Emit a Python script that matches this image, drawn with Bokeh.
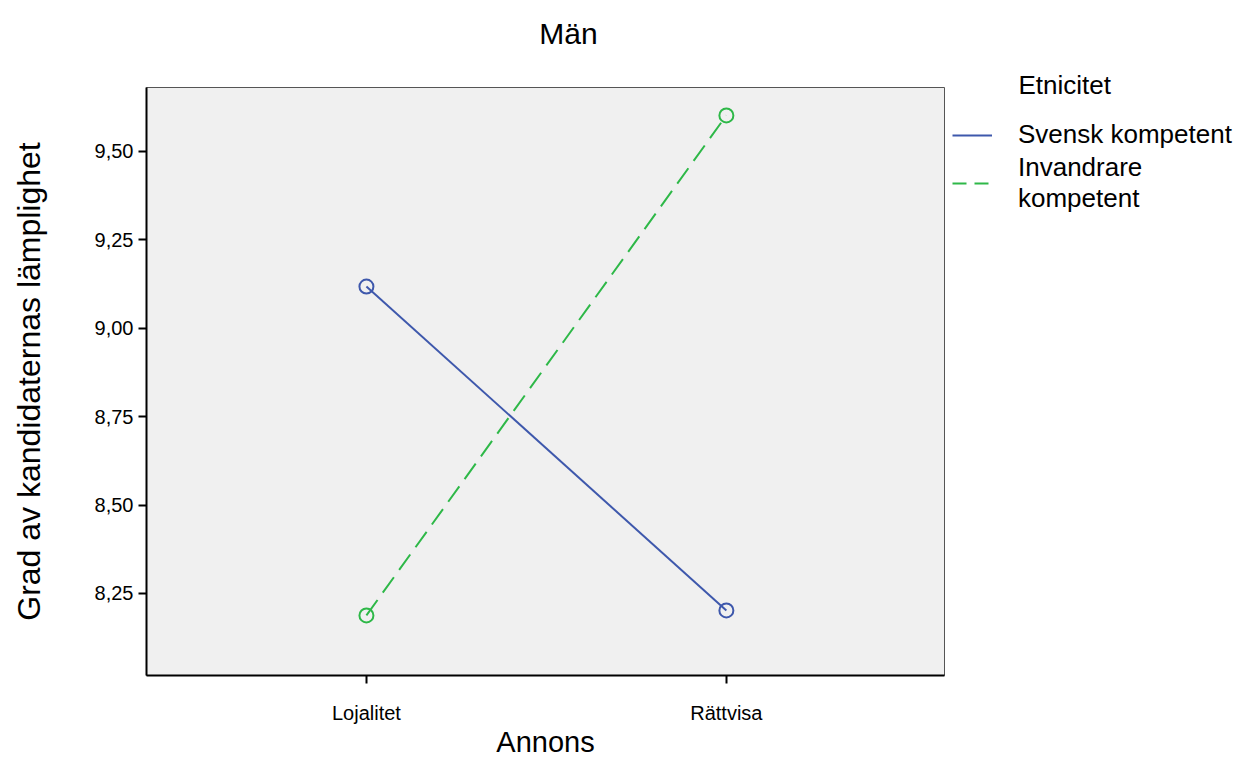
from bokeh.plotting import figure
from bokeh.models import FixedTicker, Range1d, Legend, LegendItem, Label
from bokeh.layouts import row, column
from bokeh.embed import file_html
from bokeh.resources import INLINE

categories = ["Lojalitet", "Rättvisa"]
svensk = [9.118, 8.202]
invandrare = [8.188, 9.602]
y_ticks = [8.25, 8.50, 8.75, 9.00, 9.25, 9.50]
y_tick_labels = ["8,25", "8,50", "8,75", "9,00", "9,25", "9,50"]
series_names = ["Svensk kompetent", "Invandrare\nkompetent"]
chart_title = "Män"
legend_title = "Etnicitet"

FONT = "Liberation Sans"
BLUE = "#3e58ac"
GREEN = "#2eb848"

xs = list(range(len(categories)))


def blank(width, height):
    f = figure(width=width, height=height, output_backend="svg", toolbar_location=None,
               x_axis_location=None, y_axis_location=None,
               x_range=Range1d(0, 1), y_range=Range1d(0, 1),
               min_border_left=0, min_border_right=0, min_border_top=0, min_border_bottom=0)
    f.outline_line_color = None
    f.grid.visible = False
    f.background_fill_color = "white"
    return f


# title strip (its frame is aligned with the main plot's frame, which starts at x=146)
top = blank(946, 60)
top.add_layout(Label(x=422, y=27, x_units="screen", y_units="screen", text=chart_title,
                     text_align="center", text_baseline="middle", text_font=FONT,
                     text_font_size="30px", text_color="black"))

p = figure(width=946, height=700, output_backend="svg", toolbar_location=None,
           x_range=Range1d(-0.611, 1.606), y_range=Range1d(8.018, 9.681),
           min_border_left=146, min_border_right=2, min_border_top=27, min_border_bottom=85)

p.background_fill_color = "#f0f0f0"
p.border_fill_color = "white"
p.outline_line_color = "#555555"
p.outline_line_width = 1
p.grid.visible = False

p.line(xs, svensk, line_color=BLUE, line_width=2)
p.scatter(xs, svensk, marker="circle", size=14, fill_color=None, line_color=BLUE, line_width=2)
p.line(xs, invandrare, line_color=GREEN, line_width=2, line_dash="19 9")
p.scatter(xs, invandrare, marker="circle", size=14, fill_color=None, line_color=GREEN, line_width=2)

for ax in (p.xaxis[0], p.yaxis[0]):
    ax.axis_line_color = "black"
    ax.axis_line_width = 2
    ax.major_tick_line_color = "black"
    ax.major_tick_line_width = 2
    ax.major_tick_in = 0
    ax.major_tick_out = 8
    ax.minor_tick_line_color = None
    ax.major_label_text_font = FONT
    ax.major_label_text_color = "black"
    ax.major_label_text_font_size = "20px"
    ax.axis_label_text_font = FONT
    ax.axis_label_text_font_style = "normal"
    ax.axis_label_text_color = "black"
    ax.axis_label_text_font_size = "29px"

p.xaxis.ticker = FixedTicker(ticks=xs)
p.xaxis.major_label_overrides = {i: c for i, c in enumerate(categories)}
p.xaxis.major_label_standoff = 18
p.xaxis.axis_label = "Annons"
p.xaxis.axis_label_standoff = -1

p.yaxis.ticker = FixedTicker(ticks=y_ticks)
p.yaxis.major_label_overrides = {t: l for t, l in zip(y_ticks, y_tick_labels)}
p.yaxis.major_label_standoff = 5
p.yaxis.axis_label = "Grad av kandidaternas lämplighet"
p.yaxis.axis_label_text_font_size = "32px"
p.yaxis.axis_label_standoff = 45

# legend panel: a separate full-height figure so the legend is not clipped by the plot frame.
# Its lines use the same data but fall outside this figure's range, so only the legend shows.
q = blank(293, 760)
q1 = q.line(xs, svensk, line_color=BLUE, line_width=2)
q2 = q.line(xs, invandrare, line_color=GREEN, line_width=2, line_dash="14 8")

q.add_layout(Label(x=72, y=676, x_units="screen", y_units="screen", text=legend_title,
                   text_align="left", text_baseline="middle", text_font=FONT,
                   text_font_size="26px", text_color="black"))

legend = Legend(items=[LegendItem(label=series_names[0], renderers=[q1]),
                       LegendItem(label=series_names[1], renderers=[q2])],
                location=(6, 546))
legend.label_text_font = FONT
legend.label_text_font_size = "26px"
legend.label_text_color = "black"
legend.label_text_line_height = 1.38
legend.label_standoff = 26
legend.glyph_width = 40
legend.glyph_height = 30
legend.label_height = 30
legend.spacing = 2
legend.padding = 0
legend.margin = 0
legend.border_line_color = None
legend.background_fill_alpha = 0
q.add_layout(legend, "center")

layout = row(column(top, p, spacing=0), q, spacing=0)
open("out.html", "w").write(file_html(layout, INLINE))
